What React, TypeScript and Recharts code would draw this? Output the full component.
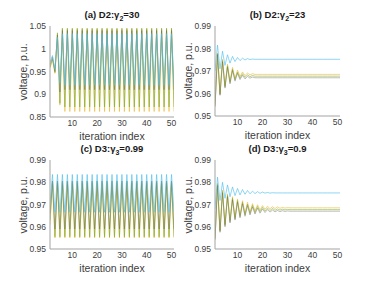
import React from 'react'
import { Line, LineChart, XAxis, YAxis } from 'recharts'

const iterations = [
  1, 2, 3, 4, 5, 6, 7, 8, 9, 10, 11, 12, 13, 14, 15, 16, 17, 18, 19, 20,
  21, 22, 23, 24, 25, 26, 27, 28, 29, 30, 31, 32, 33, 34, 35, 36, 37, 38, 39, 40,
  41, 42, 43, 44, 45, 46, 47, 48, 49, 50, 51,
]
const xTicks = [10, 20, 30, 40, 50]

// (a) D2: gamma2 = 30
const aBlue = [
  0.970, 0.985, 0.955, 1.025, 0.925,
  1.033, 0.920, 1.033, 0.920, 1.033, 0.920, 1.033, 0.920, 1.033, 0.920,
  1.033, 0.920, 1.033, 0.920, 1.033, 0.920, 1.033, 0.920, 1.033, 0.920,
  1.033, 0.920, 1.033, 0.920, 1.033, 0.920, 1.033, 0.920, 1.033, 0.920,
  1.033, 0.920, 1.033, 0.920, 1.033, 0.920, 1.033, 0.920, 1.033, 0.920,
  1.033, 0.920, 1.033, 0.920, 1.033, 0.920,
]
const aDark = [
  0.965, 0.982, 0.950, 1.030, 0.905,
  1.040, 0.910, 1.040, 0.910, 1.040, 0.910, 1.040, 0.910, 1.040, 0.910,
  1.040, 0.910, 1.040, 0.910, 1.040, 0.910, 1.040, 0.910, 1.040, 0.910,
  1.040, 0.910, 1.040, 0.910, 1.040, 0.910, 1.040, 0.910, 1.040, 0.910,
  1.040, 0.910, 1.040, 0.910, 1.040, 0.910, 1.040, 0.910, 1.040, 0.910,
  1.040, 0.910, 1.040, 0.910, 1.040, 0.910,
]
const aGreen = [
  0.960, 0.978, 0.948, 1.035, 0.880,
  1.045, 0.872, 1.045, 0.872, 1.045, 0.872, 1.045, 0.872, 1.045, 0.872,
  1.045, 0.872, 1.045, 0.872, 1.045, 0.872, 1.045, 0.872, 1.045, 0.872,
  1.045, 0.872, 1.045, 0.872, 1.045, 0.872, 1.045, 0.872, 1.045, 0.872,
  1.045, 0.872, 1.045, 0.872, 1.045, 0.872, 1.045, 0.872, 1.045, 0.872,
  1.045, 0.872, 1.045, 0.872, 1.045, 0.872,
]
const aYellow = [
  0.957, 0.976, 0.946, 1.032, 0.876,
  1.044, 0.862, 1.044, 0.862, 1.044, 0.862, 1.044, 0.862, 1.044, 0.862,
  1.044, 0.862, 1.044, 0.862, 1.044, 0.862, 1.044, 0.862, 1.044, 0.862,
  1.044, 0.862, 1.044, 0.862, 1.044, 0.862, 1.044, 0.862, 1.044, 0.862,
  1.044, 0.862, 1.044, 0.862, 1.044, 0.862, 1.044, 0.862, 1.044, 0.862,
  1.044, 0.862, 1.044, 0.862, 1.044, 0.862,
]

// (b) D2: gamma2 = 23
const bBlue = [
  0.9700, 0.9815, 0.9710, 0.9788, 0.9725, 0.9772, 0.9735, 0.9765, 0.9742, 0.9760,
  0.9746, 0.9757, 0.9749, 0.9755, 0.9751, 0.9753, 0.9752, 0.9752, 0.9752, 0.9752,
  0.9752, 0.9752, 0.9752, 0.9752, 0.9752, 0.9752, 0.9752, 0.9752, 0.9752, 0.9752,
  0.9752, 0.9752, 0.9752, 0.9752, 0.9752, 0.9752, 0.9752, 0.9752, 0.9752, 0.9752,
  0.9752, 0.9752, 0.9752, 0.9752, 0.9752, 0.9752, 0.9752, 0.9752, 0.9752, 0.9752,
  0.9752,
]
const bYellow = [
  0.9550, 0.9780, 0.9600, 0.9752, 0.9635, 0.9730, 0.9655, 0.9716, 0.9668, 0.9704,
  0.9676, 0.9696, 0.9680, 0.9691, 0.9683, 0.9688, 0.9685, 0.9685, 0.9685, 0.9685,
  0.9685, 0.9685, 0.9685, 0.9685, 0.9685, 0.9685, 0.9685, 0.9685, 0.9685, 0.9685,
  0.9685, 0.9685, 0.9685, 0.9685, 0.9685, 0.9685, 0.9685, 0.9685, 0.9685, 0.9685,
  0.9685, 0.9685, 0.9685, 0.9685, 0.9685, 0.9685, 0.9685, 0.9685, 0.9685, 0.9685,
  0.9685,
]
const bGreen = [
  0.9545, 0.9776, 0.9596, 0.9746, 0.9630, 0.9723, 0.9649, 0.9708, 0.9661, 0.9696,
  0.9668, 0.9688, 0.9672, 0.9683, 0.9675, 0.9680, 0.9677, 0.9677, 0.9677, 0.9677,
  0.9677, 0.9677, 0.9677, 0.9677, 0.9677, 0.9677, 0.9677, 0.9677, 0.9677, 0.9677,
  0.9677, 0.9677, 0.9677, 0.9677, 0.9677, 0.9677, 0.9677, 0.9677, 0.9677, 0.9677,
  0.9677, 0.9677, 0.9677, 0.9677, 0.9677, 0.9677, 0.9677, 0.9677, 0.9677, 0.9677,
  0.9677,
]
const bDark = [
  0.9540, 0.9772, 0.9592, 0.9741, 0.9624, 0.9717, 0.9643, 0.9702, 0.9655, 0.9690,
  0.9662, 0.9681, 0.9665, 0.9676, 0.9668, 0.9673, 0.9670, 0.9670, 0.9670, 0.9670,
  0.9670, 0.9670, 0.9670, 0.9670, 0.9670, 0.9670, 0.9670, 0.9670, 0.9670, 0.9670,
  0.9670, 0.9670, 0.9670, 0.9670, 0.9670, 0.9670, 0.9670, 0.9670, 0.9670, 0.9670,
  0.9670, 0.9670, 0.9670, 0.9670, 0.9670, 0.9670, 0.9670, 0.9670, 0.9670, 0.9670,
  0.9670,
]

// (c) D3: gamma3 = 0.99
const cBlue = [
  0.970,
  0.9835, 0.9665, 0.9835, 0.9665, 0.9835, 0.9665, 0.9835, 0.9665, 0.9835, 0.9665,
  0.9835, 0.9665, 0.9835, 0.9665, 0.9835, 0.9665, 0.9835, 0.9665, 0.9835, 0.9665,
  0.9835, 0.9665, 0.9835, 0.9665, 0.9835, 0.9665, 0.9835, 0.9665, 0.9835, 0.9665,
  0.9835, 0.9665, 0.9835, 0.9665, 0.9835, 0.9665, 0.9835, 0.9665, 0.9835, 0.9665,
  0.9835, 0.9665, 0.9835, 0.9665, 0.9835, 0.9665, 0.9835, 0.9665, 0.9835, 0.9665,
]
const cDark = [
  0.966,
  0.9805, 0.9590, 0.9805, 0.9590, 0.9805, 0.9590, 0.9805, 0.9590, 0.9805, 0.9590,
  0.9805, 0.9590, 0.9805, 0.9590, 0.9805, 0.9590, 0.9805, 0.9590, 0.9805, 0.9590,
  0.9805, 0.9590, 0.9805, 0.9590, 0.9805, 0.9590, 0.9805, 0.9590, 0.9805, 0.9590,
  0.9805, 0.9590, 0.9805, 0.9590, 0.9805, 0.9590, 0.9805, 0.9590, 0.9805, 0.9590,
  0.9805, 0.9590, 0.9805, 0.9590, 0.9805, 0.9590, 0.9805, 0.9590, 0.9805, 0.9590,
]
const cGreen = [
  0.963,
  0.9805, 0.9555, 0.9805, 0.9555, 0.9805, 0.9555, 0.9805, 0.9555, 0.9805, 0.9555,
  0.9805, 0.9555, 0.9805, 0.9555, 0.9805, 0.9555, 0.9805, 0.9555, 0.9805, 0.9555,
  0.9805, 0.9555, 0.9805, 0.9555, 0.9805, 0.9555, 0.9805, 0.9555, 0.9805, 0.9555,
  0.9805, 0.9555, 0.9805, 0.9555, 0.9805, 0.9555, 0.9805, 0.9555, 0.9805, 0.9555,
  0.9805, 0.9555, 0.9805, 0.9555, 0.9805, 0.9555, 0.9805, 0.9555, 0.9805, 0.9555,
]
const cYellow = [
  0.961,
  0.9795, 0.9550, 0.9795, 0.9550, 0.9795, 0.9550, 0.9795, 0.9550, 0.9795, 0.9550,
  0.9795, 0.9550, 0.9795, 0.9550, 0.9795, 0.9550, 0.9795, 0.9550, 0.9795, 0.9550,
  0.9795, 0.9550, 0.9795, 0.9550, 0.9795, 0.9550, 0.9795, 0.9550, 0.9795, 0.9550,
  0.9795, 0.9550, 0.9795, 0.9550, 0.9795, 0.9550, 0.9795, 0.9550, 0.9795, 0.9550,
  0.9795, 0.9550, 0.9795, 0.9550, 0.9795, 0.9550, 0.9795, 0.9550, 0.9795, 0.9550,
]

// (d) D3: gamma3 = 0.9
const dBlue = [
  0.9680, 0.9823, 0.9718, 0.9800, 0.9728, 0.9788, 0.9735, 0.9779, 0.9740, 0.9772,
  0.9743, 0.9767, 0.9746, 0.9763, 0.9748, 0.9760, 0.9749, 0.9758, 0.9750, 0.9756,
  0.9751, 0.9754, 0.9751, 0.9753, 0.9752, 0.9752, 0.9752, 0.9752, 0.9752, 0.9752,
  0.9752, 0.9752, 0.9752, 0.9752, 0.9752, 0.9752, 0.9752, 0.9752, 0.9752, 0.9752,
  0.9752, 0.9752, 0.9752, 0.9752, 0.9752, 0.9752, 0.9752, 0.9752, 0.9752, 0.9752,
  0.9752,
]
const dYellow = [
  0.9550, 0.9795, 0.9585, 0.9765, 0.9612, 0.9748, 0.9630, 0.9735, 0.9643, 0.9725,
  0.9653, 0.9717, 0.9661, 0.9710, 0.9667, 0.9704, 0.9672, 0.9699, 0.9676, 0.9695,
  0.9679, 0.9692, 0.9681, 0.9690, 0.9682, 0.9689, 0.9683, 0.9687, 0.9684, 0.9686,
  0.9685, 0.9685, 0.9685, 0.9685, 0.9685, 0.9685, 0.9685, 0.9685, 0.9685, 0.9685,
  0.9685, 0.9685, 0.9685, 0.9685, 0.9685, 0.9685, 0.9685, 0.9685, 0.9685, 0.9685,
  0.9685,
]
const dGreen = [
  0.9545, 0.9790, 0.9580, 0.9758, 0.9606, 0.9741, 0.9623, 0.9728, 0.9636, 0.9718,
  0.9646, 0.9710, 0.9654, 0.9702, 0.9660, 0.9696, 0.9664, 0.9691, 0.9668, 0.9687,
  0.9671, 0.9684, 0.9673, 0.9682, 0.9674, 0.9680, 0.9675, 0.9679, 0.9676, 0.9678,
  0.9677, 0.9677, 0.9677, 0.9677, 0.9677, 0.9677, 0.9677, 0.9677, 0.9677, 0.9677,
  0.9677, 0.9677, 0.9677, 0.9677, 0.9677, 0.9677, 0.9677, 0.9677, 0.9677, 0.9677,
  0.9677,
]
const dDark = [
  0.9540, 0.9785, 0.9575, 0.9752, 0.9600, 0.9735, 0.9617, 0.9721, 0.9630, 0.9711,
  0.9640, 0.9703, 0.9647, 0.9695, 0.9653, 0.9689, 0.9657, 0.9684, 0.9661, 0.9680,
  0.9664, 0.9677, 0.9666, 0.9675, 0.9667, 0.9673, 0.9668, 0.9672, 0.9669, 0.9671,
  0.9670, 0.9670, 0.9670, 0.9670, 0.9670, 0.9670, 0.9670, 0.9670, 0.9670, 0.9670,
  0.9670, 0.9670, 0.9670, 0.9670, 0.9670, 0.9670, 0.9670, 0.9670, 0.9670, 0.9670,
  0.9670,
]

const wideTicks = [0.85, 0.9, 0.95, 1, 1.05]
const narrowTicks = [0.95, 0.96, 0.97, 0.98, 0.99]

const font = '"Liberation Sans", Arial, Helvetica, sans-serif'
const axisColor = '#a3a3a3'
const textColor = '#404040'
const colors = { yellow: '#EDB120', green: '#77AC30', dark: '#6b6456', blue: '#4DBEEE' }
const opacities = { yellow: 0.7, green: 0.7, dark: 0.55, blue: 0.8 }

type PanelProps = {
  plotLeft: number
  plotTop: number
  plotW: number
  plotH: number
  title: React.ReactNode
  blue: number[]
  yellow: number[]
  green: number[]
  dark: number[]
  yDomain: [number, number]
  yTicks: number[]
}

const Panel = ({ plotLeft, plotTop, plotW, plotH, title, blue, yellow, green, dark, yDomain, yTicks }: PanelProps) => {
  const data = iterations.map((x, i) => ({ x, blue: blue[i], yellow: yellow[i], green: green[i], dark: dark[i] }))
  const tickStyle = { fontSize: 8.5, fill: textColor, fontFamily: font }

  return (
    <>
      <div style={ { position: 'absolute', left: plotLeft - 50, top: plotTop - 5 } }>
        <LineChart width={ plotW + 55 } height={ plotH + 29 } data={ data }
                   margin={ { top: 5, right: 5, bottom: 0, left: 0 } }>
          <XAxis dataKey="x" type="number" domain={ [1, 51] } ticks={ xTicks } allowDataOverflow
                 height={ 24 } tickLine={ false } tickSize={ 2 } tickMargin={ 1 }
                 axisLine={ { stroke: axisColor } } tick={ tickStyle }/>
          <XAxis xAxisId="top" orientation="top" dataKey="x" type="number" domain={ [1, 51] }
                 height={ 0 } tick={ false } tickLine={ false } axisLine={ { stroke: axisColor } }/>
          <YAxis type="number" domain={ yDomain } ticks={ yTicks } allowDataOverflow width={ 50 }
                 tickLine={ false } tickSize={ 2 } tickMargin={ 2 } axisLine={ { stroke: axisColor } }
                 tick={ tickStyle } tickFormatter={ (v: number) => String(v) }/>
          <YAxis yAxisId="right" orientation="right" type="number" domain={ yDomain } width={ 0 }
                 tick={ false } tickLine={ false } axisLine={ { stroke: axisColor } }/>
          { (['yellow', 'green', 'dark', 'blue'] as const).map((k) => (
            <Line key={ k } type="linear" dataKey={ k } stroke={ colors[k] } strokeWidth={ 0.8 }
                  strokeOpacity={ opacities[k] } dot={ false } isAnimationActive={ false }/>
          )) }
        </LineChart>
      </div>
      <div style={ {
        position: 'absolute', left: plotLeft, top: plotTop - 17, width: plotW, height: 12,
        lineHeight: '12px', textAlign: 'center', fontFamily: font, fontSize: 9.5,
        fontWeight: 'bold', color: '#1a1a1a', whiteSpace: 'nowrap',
      } }>
        { title }
      </div>
      <div style={ {
        position: 'absolute', left: plotLeft - 27, top: plotTop + plotH / 2,
        transform: 'translate(-50%, -50%) rotate(-90deg)', fontFamily: font, fontSize: 10.5,
        color: textColor, whiteSpace: 'nowrap',
      } }>
        voltage, p.u.
      </div>
      <div style={ {
        position: 'absolute', left: plotLeft + plotW / 2, top: plotTop + plotH + 19,
        transform: 'translate(-50%, -50%)', fontFamily: font, fontSize: 10.5,
        color: textColor, whiteSpace: 'nowrap',
      } }>
        iteration index
      </div>
    </>
  )
}

const sub = { fontSize: 7, verticalAlign: 'sub', lineHeight: 0 } as const

const App = () => {
  return (
    <div style={ { position: 'absolute', left: 0, top: 0, width: 376, height: 282, background: '#fff' } }>
      <Panel plotLeft={ 50 } plotTop={ 26 } plotW={ 124 } plotH={ 91 }
             title={ <>(a) D2:γ<span style={ sub }>2</span>=30</> }
             blue={ aBlue } yellow={ aYellow } green={ aGreen } dark={ aDark }
             yDomain={ [0.85, 1.05] } yTicks={ wideTicks }/>
      <Panel plotLeft={ 215 } plotTop={ 26 } plotW={ 125 } plotH={ 90 }
             title={ <>(b) D2:γ<span style={ sub }>2</span>=23</> }
             blue={ bBlue } yellow={ bYellow } green={ bGreen } dark={ bDark }
             yDomain={ [0.95, 0.99] } yTicks={ narrowTicks }/>
      <Panel plotLeft={ 50 } plotTop={ 160 } plotW={ 124 } plotH={ 89 }
             title={ <>(c) D3:γ<span style={ sub }>3</span>=0.99</> }
             blue={ cBlue } yellow={ cYellow } green={ cGreen } dark={ cDark }
             yDomain={ [0.95, 0.99] } yTicks={ narrowTicks }/>
      <Panel plotLeft={ 215 } plotTop={ 160 } plotW={ 125 } plotH={ 89 }
             title={ <>(d) D3:γ<span style={ sub }>3</span>=0.9</> }
             blue={ dBlue } yellow={ dYellow } green={ dGreen } dark={ dDark }
             yDomain={ [0.95, 0.99] } yTicks={ narrowTicks }/>
    </div>
  )
}

export default App
